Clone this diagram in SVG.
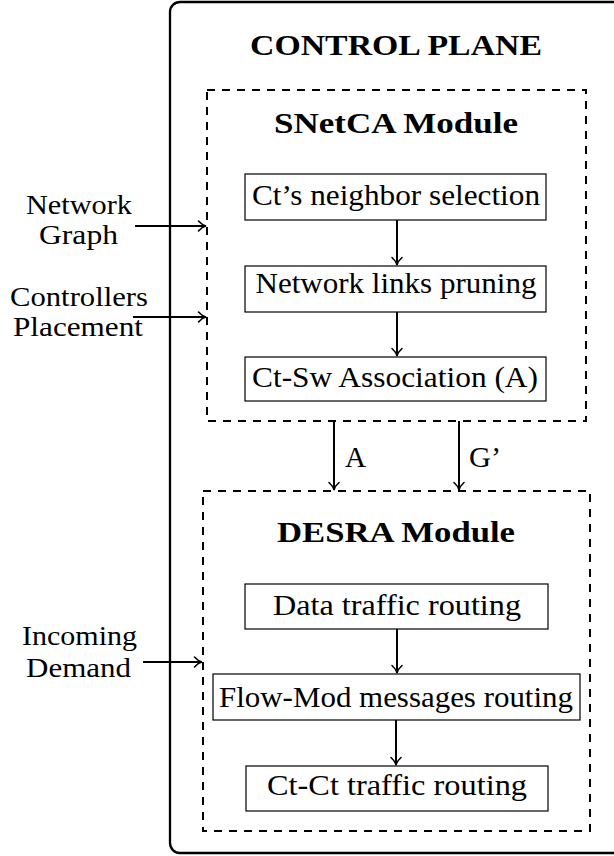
<svg xmlns="http://www.w3.org/2000/svg" width="614" height="856" viewBox="0 0 614 856">
<style>
text{font-family:"Liberation Serif","DejaVu Serif","Times New Roman",serif;font-size:29px;fill:#000}
.b{font-weight:bold}
.lab{font-size:27px}
.box{fill:#fff;stroke:#000;stroke-width:1.2}
.dash{fill:none;stroke:#000;stroke-width:2;stroke-dasharray:8 7}
.arr{fill:none;stroke:#000;stroke-width:2;marker-end:url(#ah)}
</style>
<defs>
<marker id="ah" markerUnits="userSpaceOnUse" markerWidth="14" markerHeight="14" viewBox="-9 -7 11 14" refX="0" refY="0" orient="auto">
<path d="M-7.5,-5 C-5,-2.2 -2.5,-0.6 0,0 C-2.5,0.6 -5,2.2 -7.5,5" fill="none" stroke="#000" stroke-width="1.6" stroke-linecap="round"/>
</marker>
</defs>
<g id="control-plane">
<rect x="170" y="2" width="470" height="851" rx="10" ry="10" fill="none" stroke="#000" stroke-width="2.3"/>
<text class="b" x="396" y="55" text-anchor="middle" textLength="292" lengthAdjust="spacingAndGlyphs">CONTROL PLANE</text>
</g>
<g id="snetca">
<rect class="dash" x="207" y="90" width="379" height="331"/>
<text class="b" x="396" y="133" text-anchor="middle" textLength="244" lengthAdjust="spacingAndGlyphs">SNetCA Module</text>
</g>
<g id="n1">
<rect class="box" x="245" y="174" width="301" height="46"/>
<text x="396" y="205" text-anchor="middle" textLength="288" lengthAdjust="spacingAndGlyphs">Ct’s neighbor selection</text>
</g>
<g id="n2">
<rect class="box" x="245" y="266" width="301" height="46"/>
<text x="396" y="293" text-anchor="middle" textLength="281" lengthAdjust="spacingAndGlyphs">Network links pruning</text>
</g>
<g id="n3">
<rect class="box" x="245" y="357" width="301" height="44"/>
<text x="395" y="387" text-anchor="middle" textLength="286" lengthAdjust="spacingAndGlyphs">Ct-Sw Association (A)</text>
</g>
<g id="desra">
<rect class="dash" x="203" y="491" width="387" height="340"/>
<text class="b" x="396" y="542" text-anchor="middle" textLength="238" lengthAdjust="spacingAndGlyphs">DESRA Module</text>
</g>
<g id="n4">
<rect class="box" x="245" y="584" width="303" height="45"/>
<text x="397" y="615" text-anchor="middle" textLength="248" lengthAdjust="spacingAndGlyphs">Data traffic routing</text>
</g>
<g id="n5">
<rect class="box" x="213" y="674" width="367" height="46"/>
<text x="396" y="707" text-anchor="middle" textLength="354" lengthAdjust="spacingAndGlyphs">Flow-Mod messages routing</text>
</g>
<g id="n6">
<rect class="box" x="246" y="766" width="302" height="45"/>
<text x="397" y="795" text-anchor="middle" textLength="260" lengthAdjust="spacingAndGlyphs">Ct-Ct traffic routing</text>
</g>
<g id="inputs">
<text class="lab" x="79" y="214" text-anchor="middle" textLength="106" lengthAdjust="spacingAndGlyphs">Network</text>
<text class="lab" x="78.5" y="244" text-anchor="middle" textLength="79" lengthAdjust="spacingAndGlyphs">Graph</text>
<text class="lab" x="79" y="306" text-anchor="middle" textLength="138" lengthAdjust="spacingAndGlyphs">Controllers</text>
<text class="lab" x="78" y="336" text-anchor="middle" textLength="130" lengthAdjust="spacingAndGlyphs">Placement</text>
<text class="lab" x="79.5" y="645" text-anchor="middle" textLength="115" lengthAdjust="spacingAndGlyphs">Incoming</text>
<text class="lab" x="78.5" y="677" text-anchor="middle" textLength="105" lengthAdjust="spacingAndGlyphs">Demand</text>
</g>
<g id="connectors">
<line class="arr" x1="135" y1="226" x2="206" y2="226"/>
<line class="arr" x1="133" y1="317" x2="206" y2="317"/>
<line class="arr" x1="143" y1="662" x2="202" y2="662"/>
<line class="arr" x1="397" y1="220" x2="397" y2="265"/>
<line class="arr" x1="397" y1="312" x2="397" y2="356"/>
<line class="arr" x1="334" y1="421" x2="334" y2="490"/>
<line class="arr" x1="459" y1="421" x2="459" y2="490"/>
<line class="arr" x1="397" y1="629" x2="397" y2="673"/>
<line class="arr" x1="396" y1="720" x2="396" y2="765"/>
<text x="345" y="467" textLength="21" lengthAdjust="spacingAndGlyphs">A</text>
<text x="469" y="467" textLength="32" lengthAdjust="spacingAndGlyphs">G’</text>
</g>
</svg>
